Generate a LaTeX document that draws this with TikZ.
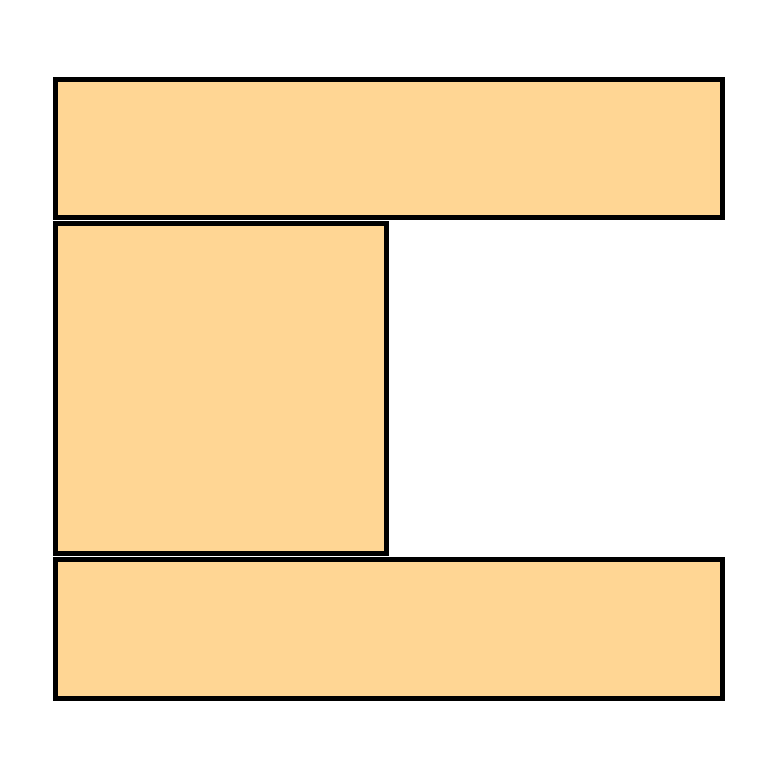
\documentclass[tikz,border=0pt]{standalone}
\usepackage{xcolor}
\definecolor{blockfill}{RGB}{255,214,148}
\begin{document}
\begin{tikzpicture}[x=1pt,y=-1pt,
  block/.style={draw=black,fill=blockfill,line width=4.8pt,line join=miter}]
\useasboundingbox (0,0) rectangle (779,779);
\draw[block] (55.5,79.5) rectangle (722.5,217.5);
\draw[block] (55.5,223.5) rectangle (386.5,553.5);
\draw[block] (55.5,559.5) rectangle (722.5,698.5);
\end{tikzpicture}
\end{document}
